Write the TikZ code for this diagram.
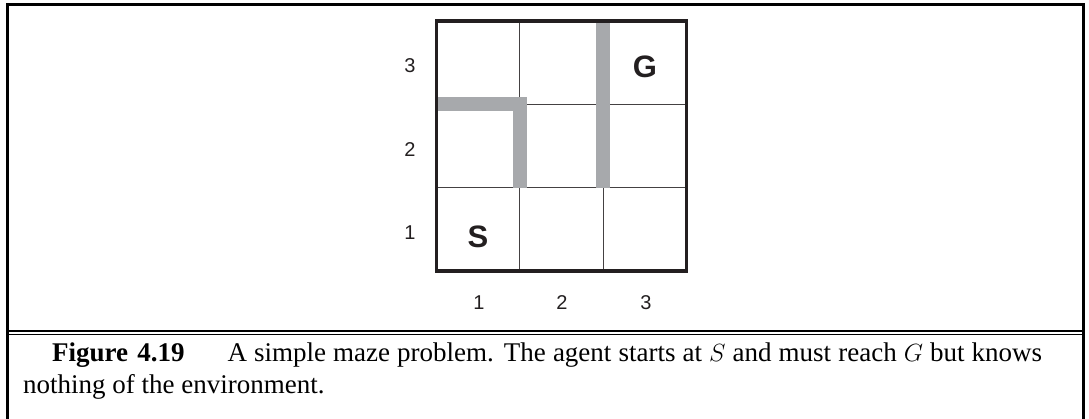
\documentclass[tikz,border=0pt]{standalone}
\usepackage{fontspec}
\setmainfont{Liberation Serif}
\newfontfamily\labelfont{Liberation Sans}
\definecolor{wallgray}{HTML}{A7A9AC}
\definecolor{inkblack}{HTML}{231F20}
\begin{document}
\begin{tikzpicture}[x=1pt,y=-1pt,
  frame/.style={line width=2.7pt, black},
  gridline/.style={line width=1pt, inkblack!85},
  wall/.style={fill=wallgray, draw=none},
  axislabel/.style={font=\labelfont\fontsize{20}{20}\selectfont, inner sep=0pt, text=inkblack},
  cellmark/.style={font=\labelfont\bfseries\fontsize{31}{31}\selectfont, inner sep=0pt, text=inkblack},
  captionline/.style={font=\fontsize{27}{31}\selectfont, inner sep=0pt, anchor=base west}]
\useasboundingbox (0,0) rectangle (1089,419);
% outer frame
\draw[frame] (7.8,419) -- (7.8,4.6) -- (1083.5,4.6) -- (1083.5,419);
\draw[line width=2.5pt] (7.8,331.2) -- (1083.5,331.2);
\draw[line width=1.3pt] (7.8,334.8) -- (1083.5,334.8);
% grid
\draw[gridline] (519.8,21) -- (519.8,271);
\draw[gridline] (603.2,21) -- (603.2,271);
\draw[gridline] (436.5,104.3) -- (686.5,104.3);
\draw[gridline] (436.5,187.7) -- (686.5,187.7);
% walls
\fill[wall] (436.5,97) rectangle (527,111);
\fill[wall] (513,97) rectangle (527,187.7);
\fill[wall] (596.2,21) rectangle (610.2,187.7);
% border
\draw[line width=3.3pt, inkblack] (436.5,21) rectangle (686.5,271);
% marks
\node[cellmark] (S) at (478,237) {S};
\node[cellmark] (G) at (645,67) {G};
% labels
\node[axislabel] (r3) at (410,66) {3};
\node[axislabel] (r2) at (410,150) {2};
\node[axislabel] (r1) at (410,233) {1};
\node[axislabel] (c1) at (479,303) {1};
\node[axislabel] (c2) at (562,303) {2};
\node[axislabel] (c3) at (646,303) {3};
% caption
\node[captionline] (cap1) at (52,362) {\makebox[990pt][s]{\textbf{Figure\hspace{2pt} 4.19}\hspace{43pt}A simple maze problem. The agent starts at $S$ and must reach $G$ but knows}};
\node[captionline] (cap2) at (23,393) {nothing of the environment.};
\end{tikzpicture}
\end{document}
